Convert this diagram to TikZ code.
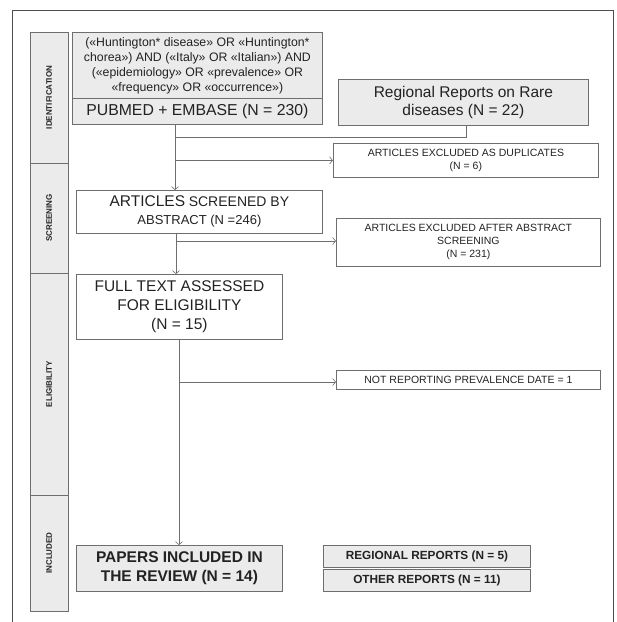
\documentclass[tikz,border=0pt]{standalone}
\usepackage{fontspec}
\setmainfont{Liberation Sans}
\usetikzlibrary{arrows.meta}
\usetikzlibrary{calc}

\definecolor{boxgrey}{HTML}{EBEBEB}
\definecolor{linegrey}{HTML}{6E6E6E}
\definecolor{inkgrey}{HTML}{222222}

\tikzset{
	box/.style={draw=linegrey,line width=0.8pt,anchor=north west,inner sep=0pt,align=center,text=inkgrey},
	greybox/.style={box,fill=boxgrey},
	phase/.style={draw=linegrey,line width=0.8pt,fill=boxgrey,rotate=90,inner sep=0pt,text=inkgrey,
		font=\fontsize{8}{9}\selectfont\bfseries},
	link/.style={draw=linegrey,line width=0.7pt},
	arr/.style={link,-{Straight Barb[length=3pt,width=7pt,line width=0.6pt]}}
}

\begin{document}
\begin{tikzpicture}[x=1pt,y=-1pt]
	\useasboundingbox (0,0) rectangle (617,622);
	\draw[draw=inkgrey!80,line width=0.9pt] (12,622) -- (12,10) -- (613,10) -- (613,622);

	% phases on the left
	\node[phase,minimum width=131,minimum height=38] (ident) at (49,97.5) {IDENTIFICATION};
	\node[phase,minimum width=110,minimum height=38] (screen) at (49,218) {SCREENING};
	\node[phase,minimum width=222,minimum height=38] (elig) at (49,384) {ELIGIBILITY};
	\node[phase,minimum width=116,minimum height=38] (incl) at (49,553) {INCLUDED};

	% boxes
	\node[greybox,minimum width=250,minimum height=66,font=\fontsize{12.3}{15}\selectfont] (query) at (72,32)
		{(«Huntington* disease» OR «Huntington*\\chorea») AND («Italy» OR «Italian») AND\\(«epidemiology» OR «prevalence» OR\\«frequency» OR «occurrence»)};
	\node[greybox,minimum width=250,minimum height=26,font=\fontsize{15.8}{18}\selectfont] (pubmed) at (72,98)
		{PUBMED + EMBASE (N = 230)};
	\node[greybox,minimum width=250,minimum height=46,font=\fontsize{15.5}{18}\selectfont] (regional) at (338,79)
		{Regional Reports on Rare\\diseases (N = 22)};
	\node[box,minimum width=265,minimum height=34,font=\fontsize{10.5}{13}\selectfont] (dupl) at (333,143)
		{ARTICLES EXCLUDED AS DUPLICATES\\(N = 6)};
	\node[box,minimum width=246,minimum height=43,font=\fontsize{13}{18}\selectfont] (screened) at (76,190)
		{{\fontsize{15.5}{18}\selectfont ARTICLES} {\fontsize{14}{18}\selectfont SCREENED BY}\\ABSTRACT (N =246)};
	\node[box,minimum width=264,minimum height=48,font=\fontsize{10.5}{13}\selectfont] (abstr) at (336,218)
		{ARTICLES EXCLUDED AFTER ABSTRACT\\SCREENING\\(N = 231)};
	\node[box,minimum width=206,minimum height=65,font=\fontsize{15.5}{19}\selectfont] (fulltext) at (76,274)
		{FULL TEXT ASSESSED\\FOR ELIGIBILITY\\(N = 15)};
	\node[box,minimum width=264,minimum height=19,font=\fontsize{10.5}{12}\selectfont] (prev) at (336,370)
		{NOT REPORTING PREVALENCE DATE = 1};
	\node[greybox,minimum width=206,minimum height=46,font=\fontsize{15.5}{19}\selectfont\bfseries] (papers) at (76,545)
		{PAPERS INCLUDED IN\\THE REVIEW (N = 14)};
	\node[greybox,minimum width=207,minimum height=22,font=\fontsize{11.8}{13}\selectfont\bfseries] (regrep) at (323,545)
		{REGIONAL REPORTS (N = 5)};
	\node[greybox,minimum width=207,minimum height=22,font=\fontsize{11.8}{13}\selectfont\bfseries] (othrep) at (323,569)
		{OTHER REPORTS (N = 11)};

	% junctions
	\coordinate (j1) at (175,137);
	\coordinate (r1) at (466,137);
	\coordinate (j2) at (176,241);
	\coordinate (j3) at (179,382);

	% connectors
	\draw[link] (regional.south -| r1) -- (r1) -- (j1);
	\draw[arr] (pubmed.south -| j1) -- (screened.north -| j1);
	\draw[arr] (j1 |- dupl.west) -- (dupl.west);
	\draw[arr] (screened.south -| j2) -- (fulltext.north -| j2);
	\draw[arr] (j2) -- (j2 -| abstr.west);
	\draw[arr] (fulltext.south -| j3) -- (papers.north -| j3);
	\draw[arr] (j3) -- (j3 -| prev.west);
\end{tikzpicture}
\end{document}
